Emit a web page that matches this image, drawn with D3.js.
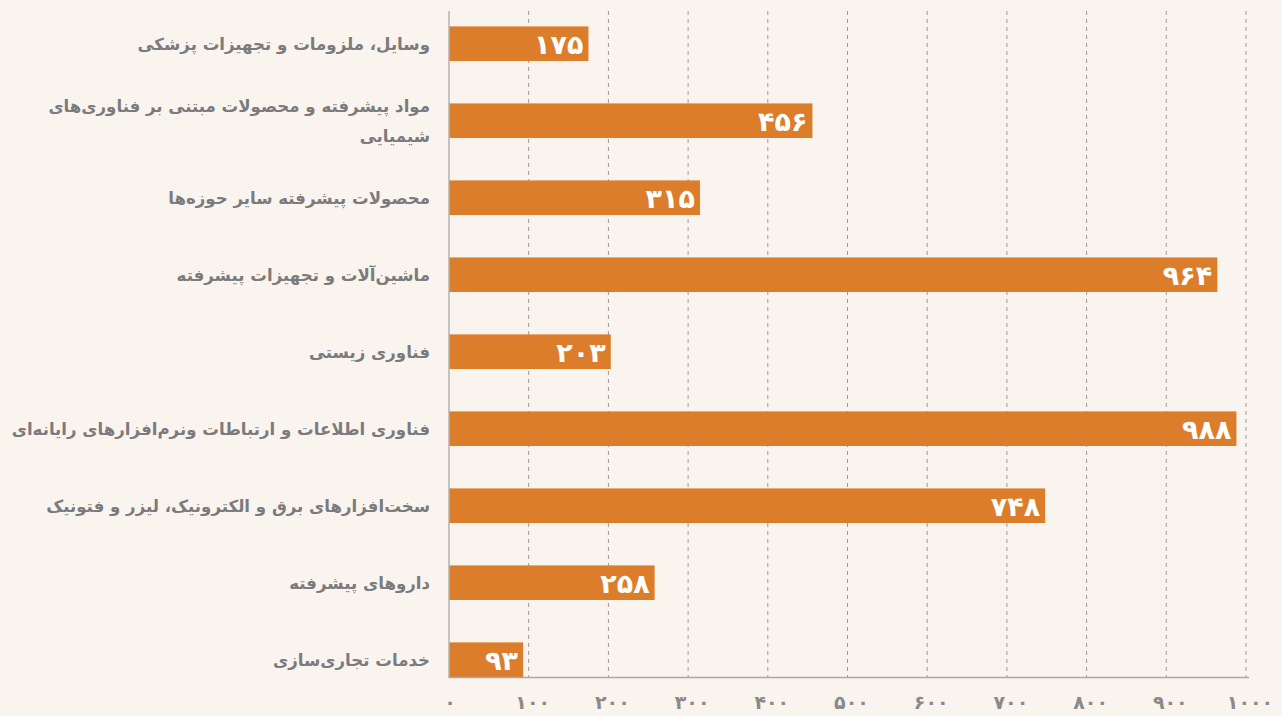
<!DOCTYPE html>
<meta charset="utf-8">
<style>
body {
  margin: 0;
  background: #faf4ee;
}
svg {
  display: block;
  font-family: "DejaVu Sans", sans-serif;
  font-weight: bold;
}
.cat {
  fill: #7b7b7d;
  font-size: 16.6px;
}
.val {
  fill: #fff;
  font-size: 27px;
}
.tick text {
  fill: #8a8a8c;
  font-size: 19px;
}
.grid line {
  stroke: #9a9a9a;
  stroke-dasharray: 4,4;
}
</style>
<svg width="1282" height="716"></svg>
<script src="https://cdnjs.cloudflare.com/ajax/libs/d3/7.8.5/d3.min.js"></script>
<script>

var categories = [
  ["وسایل، ملزومات و تجهیزات پزشکی"],
  ["مواد پیشرفته و محصولات مبتنی بر فناوری‌های", "شیمیایی"],
  ["محصولات پیشرفته سایر حوزه‌ها"],
  ["ماشین‌آلات و تجهیزات پیشرفته"],
  ["فناوری زیستی"],
  ["فناوری اطلاعات و ارتباطات ونرم‌افزارهای رایانه‌ای"],
  ["سخت‌افزارهای برق و الکترونیک، لیزر و فتونیک"],
  ["داروهای پیشرفته"],
  ["خدمات تجاری‌سازی"]
];
var values = [175, 456, 315, 964, 203, 988, 748, 258, 93];
var ticks = [0, 100, 200, 300, 400, 500, 600, 700, 800, 900, 1000];

var svg = d3.select("svg");
var faDigits = "۰۱۲۳۴۵۶۷۸۹";
function fa(n) {
  return String(n).replace(/[0-9]/g, function(d) { return faDigits[+d]; });
}

var x = d3.scaleLinear()
    .domain([0, 1000])
    .range([449, 1246]);

var y = d3.scaleBand()
    .domain(d3.range(values.length))
    .range([26.4, 677])
    .paddingInner(0.5506)
    .paddingOuter(0);

// vertical dashed grid
svg.append("g")
    .attr("class", "grid")
  .selectAll("line")
  .data(ticks.slice(1))
  .enter().append("line")
    .attr("x1", x)
    .attr("x2", x)
    .attr("y1", 11)
    .attr("y2", 677);

// bars
svg.append("g")
  .selectAll("rect")
  .data(values)
  .enter().append("rect")
    .attr("x", x(0))
    .attr("y", function(d, i) { return y(i); })
    .attr("width", function(d) { return x(d) - x(0); })
    .attr("height", y.bandwidth())
    .attr("fill", "#db7d2a");

// value labels
svg.append("g")
  .selectAll("text")
  .data(values)
  .enter().append("text")
    .attr("class", "val")
    .attr("x", function(d) { return x(d) - 5; })
    .attr("y", function(d, i) { return y(i) + y.bandwidth() / 2 + 10; })
    .attr("text-anchor", "end")
    .text(function(d) { return fa(d); });

// axes lines
svg.append("line")
    .attr("x1", x(0)).attr("x2", x(0))
    .attr("y1", 11).attr("y2", 678)
    .attr("stroke", "#b3b3b3")
    .attr("stroke-width", 1.5);
svg.append("line")
    .attr("x1", x(0)).attr("x2", x(1000) + 3)
    .attr("y1", 677.5).attr("y2", 677.5)
    .attr("stroke", "#a8a8a8")
    .attr("stroke-width", 1.5);

// tick labels
svg.append("g")
  .selectAll("g")
  .data(ticks)
  .enter().append("g")
    .attr("class", "tick")
    .attr("transform", function(d) { return "translate(" + (x(d) + (d ? 4 : 1)) + ",709)"; })
  .append("text")
    .attr("text-anchor", "middle")
    .text(function(d) { return fa(d); });

// category labels
var cat = svg.append("g")
  .selectAll("text")
  .data(categories)
  .enter().append("text")
    .attr("class", "cat")
    .attr("direction", "rtl")
    .attr("text-anchor", "start")
    .attr("x", 430)
    .attr("y", function(d, i) { return y(i) + y.bandwidth() / 2 - (d.length - 1) * 15; });

cat.selectAll("tspan")
  .data(function(d) { return d; })
  .enter().append("tspan")
    .attr("x", 430)
    .attr("dy", function(d, i) { return i ? 30 : "0.36em"; })
    .text(function(d) { return d; });

</script>
